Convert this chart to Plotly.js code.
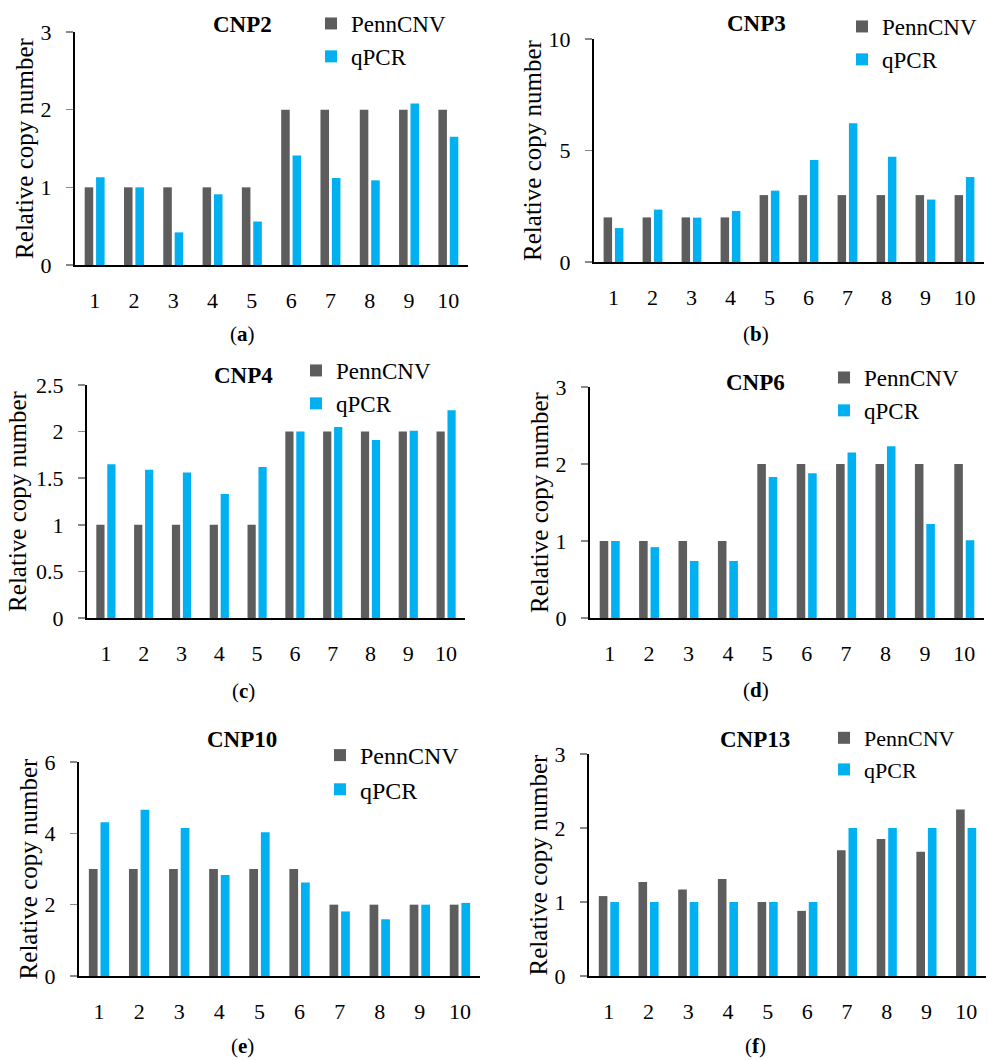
<!DOCTYPE html>
<html>
<head>
<meta charset="utf-8">
<script src="https://cdn.plot.ly/plotly-3.0.1.min.js"></script>
<style>html,body{margin:0;padding:0;background:#fff;}#chart{width:988px;height:1061px;}</style>
</head>
<body>
<div id="chart"></div>
<script>
// ---------- data ----------
const samples = ['1','2','3','4','5','6','7','8','9','10'];
const seriesNames = ['PennCNV', 'qPCR'];
const panelTitles = ['CNP2', 'CNP3', 'CNP4', 'CNP6', 'CNP10', 'CNP13'];
const panelLetters = ['a', 'b', 'c', 'd', 'e', 'f'];

const cnp2_penn  = [1, 1, 1, 1, 1, 2, 2, 2, 2, 2];
const cnp2_qpcr  = [1.13, 1.00, 0.42, 0.91, 0.56, 1.41, 1.12, 1.09, 2.08, 1.65];
const cnp3_penn  = [2, 2, 2, 2, 3, 3, 3, 3, 3, 3];
const cnp3_qpcr  = [1.52, 2.35, 1.99, 2.29, 3.20, 4.57, 6.22, 4.72, 2.80, 3.81];
const cnp4_penn  = [1, 1, 1, 1, 1, 2, 2, 2, 2, 2];
const cnp4_qpcr  = [1.65, 1.59, 1.56, 1.33, 1.62, 2.00, 2.05, 1.91, 2.01, 2.23];
const cnp6_penn  = [1, 1, 1, 1, 2, 2, 2, 2, 2, 2];
const cnp6_qpcr  = [1.00, 0.92, 0.74, 0.74, 1.83, 1.88, 2.15, 2.23, 1.22, 1.01];
const cnp10_penn = [3, 3, 3, 3, 3, 3, 2, 2, 2, 2];
const cnp10_qpcr = [4.31, 4.66, 4.15, 2.83, 4.03, 2.62, 1.81, 1.59, 2.00, 2.05];
const cnp13_penn = [1.08, 1.27, 1.17, 1.31, 1.00, 0.88, 1.70, 1.85, 1.68, 2.25];
const cnp13_qpcr = [1, 1, 1, 1, 1, 1, 2, 2, 2, 2];

const pennSeries = [cnp2_penn, cnp3_penn, cnp4_penn, cnp6_penn, cnp10_penn, cnp13_penn];
const qpcrSeries = [cnp2_qpcr, cnp3_qpcr, cnp4_qpcr, cnp6_qpcr, cnp10_qpcr, cnp13_qpcr];
const yMax  = [3, 10, 2.5, 3, 6, 3];
const yStep = [1, 5, 0.5, 1, 2, 1];

// ---------- layout geometry (pixels) ----------
const W = 988, H = 1061;
const FONT = "'Liberation Serif', 'Times New Roman', serif";
const GRAY = '#5d5d5d', BLUE = '#00b0f0';
// plot area [left, right, top, bottom]
const boxes = [
  [75, 468, 32, 265],
  [594, 984, 39, 262],
  [87, 465, 385, 618],
  [590, 984, 387, 618],
  [79, 480, 762, 976],
  [589, 986, 754, 976]
];
const titlePos  = [[242, 25], [756, 23], [243, 375], [755, 382], [242, 739], [755, 739]];
const letterPos = [[242, 334], [756, 334], [243, 691], [756, 690], [242, 1046], [755, 1046]];
const legendPos = [[351, 2], [882, 5], [336, 349], [864, 356], [360, 733], [864, 717]];
const legendFont = [23, 23, 23, 23, 24, 22];
const titleStandoff = [0, 0, 2, 0, 0, 0];

const px = v => v / W;
const py = v => 1 - v / H;

const data = [];
const layout = {
  width: W, height: H,
  margin: {l: 0, r: 0, t: 0, b: 0},
  paper_bgcolor: '#fff', plot_bgcolor: '#fff',
  barmode: 'group', bargap: 0.42, bargroupgap: 0.25,
  font: {family: FONT, size: 22, color: '#000'},
  annotations: [],
  showlegend: true
};

for (let i = 0; i < 6; i++) {
  const n = i === 0 ? '' : String(i + 1);
  const legendId = i === 0 ? 'legend' : 'legend' + (i + 1);
  const b = boxes[i];
  data.push({
    type: 'bar', name: seriesNames[0], x: samples, y: pennSeries[i],
    xaxis: 'x' + n, yaxis: 'y' + n, legend: legendId,
    marker: {color: GRAY, line: {width: 0}}
  });
  data.push({
    type: 'bar', name: seriesNames[1], x: samples, y: qpcrSeries[i],
    xaxis: 'x' + n, yaxis: 'y' + n, legend: legendId,
    marker: {color: BLUE, line: {width: 0}}
  });
  layout['xaxis' + n] = {
    domain: [px(b[0]), px(b[1])], anchor: 'y' + n,
    type: 'category', range: [-0.5, 9.5],
    showline: true, linecolor: '#000', linewidth: 2,
    ticks: '', showgrid: false, zeroline: false,
    tickfont: {family: FONT, size: 22, color: '#000'},
    ticklabelstandoff: 15, fixedrange: true
  };
  layout['yaxis' + n] = {
    domain: [py(b[3]), py(b[2])], anchor: 'x' + n,
    range: [0, yMax[i]], tick0: 0, dtick: yStep[i],
    showline: true, linecolor: '#000', linewidth: 2,
    ticks: 'outside', ticklen: 7, tickwidth: 1.5, tickcolor: '#888',
    showgrid: false, zeroline: false,
    tickfont: {family: FONT, size: 22, color: '#000'},
    ticklabelstandoff: 10,
    title: {text: 'Relative copy number', font: {family: FONT, size: 25, color: '#000'}, standoff: titleStandoff[i]},
    fixedrange: true
  };
  layout[legendId] = {
    x: px(legendPos[i][0] - 40), y: py(legendPos[i][1]),
    xanchor: 'left', yanchor: 'top',
    bgcolor: 'rgba(0,0,0,0)', borderwidth: 0,
    font: {family: FONT, size: legendFont[i], color: '#000'},
    traceorder: 'normal'
  };
  layout.annotations.push({
    text: '<b>' + panelTitles[i] + '</b>', xref: 'paper', yref: 'paper',
    x: px(titlePos[i][0]), y: py(titlePos[i][1]), xanchor: 'center', yanchor: 'middle',
    showarrow: false, font: {family: FONT, size: 23, color: '#000'}
  });
  layout.annotations.push({
    text: '(<b>' + panelLetters[i] + '</b>)', xref: 'paper', yref: 'paper',
    x: px(letterPos[i][0]), y: py(letterPos[i][1]), xanchor: 'center', yanchor: 'middle',
    showarrow: false, font: {family: FONT, size: 21, color: '#000'}
  });
}

Plotly.newPlot('chart', data, layout, {displayModeBar: false, staticPlot: true});
</script>
</body>
</html>
